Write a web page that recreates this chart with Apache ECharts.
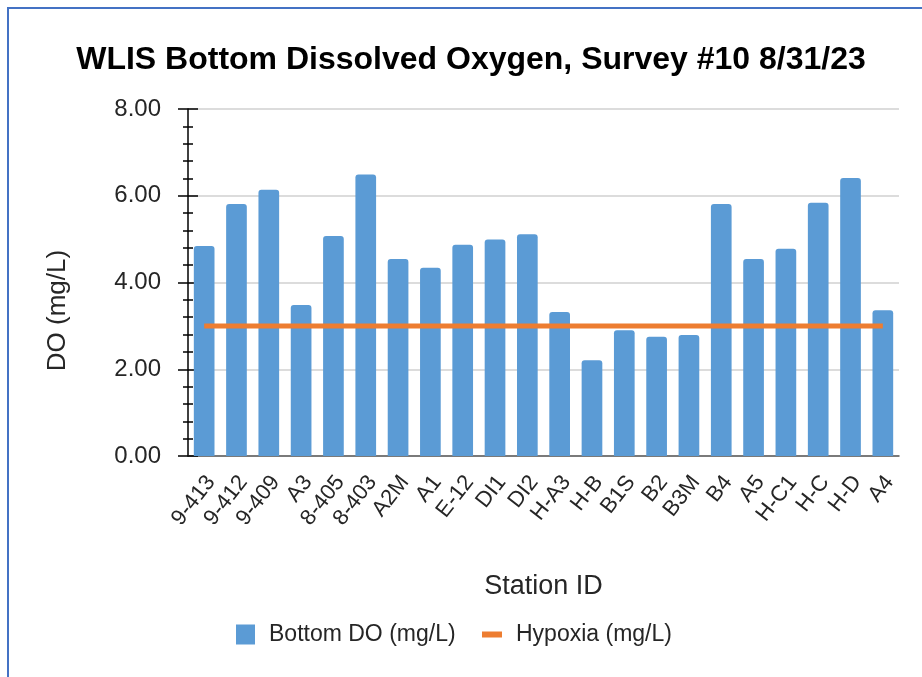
<!DOCTYPE html>
<html>
<head>
<meta charset="utf-8">
<title>WLIS Bottom Dissolved Oxygen</title>
<script src="https://cdn.jsdelivr.net/npm/echarts@6.0.0/dist/echarts.min.js"></script>
<style>
    html, body {
        margin: 0;
        padding: 0;
        background: #fff;
        overflow: hidden;
        width: 922px;
        height: 677px;
    }
    .do-chart {
        position: absolute;
        left: 0;
        top: 0;
        width: 942px;
        height: 677px;
    }
    /* 外框，只露出左边和上边 */
    .chart-frame {
        position: absolute;
        left: 7px;
        top: 7px;
        width: 1000px;
        height: 1000px;
        border-left: 2px solid #4472c4;
        border-top: 2px solid #4472c4;
        pointer-events: none;
    }
</style>
</head>
<body>
<div class="do-chart" id="doChart"></div>
<div class="chart-frame"></div>
<script>
// 站点
var stations = ['9-413', '9-412', '9-409', 'A3', '8-405', '8-403', 'A2M', 'A1', 'E-12', 'DI1', 'DI2',
    'H-A3', 'H-B', 'B1S', 'B2', 'B3M', 'B4', 'A5', 'H-C1', 'H-C', 'H-D', 'A4'];
// 底层溶解氧 mg/L
var bottomDO = [4.84, 5.81, 6.14, 3.48, 5.07, 6.49, 4.54, 4.34, 4.87, 4.99, 5.11,
    3.32, 2.21, 2.90, 2.75, 2.79, 5.81, 4.54, 4.78, 5.84, 6.41, 3.36];
// 缺氧阈值 mg/L
var hypoxia = [3.0, 3.0, 3.0, 3.0, 3.0, 3.0, 3.0, 3.0, 3.0, 3.0, 3.0,
    3.0, 3.0, 3.0, 3.0, 3.0, 3.0, 3.0, 3.0, 3.0, 3.0, 3.0];
// y轴刻度
var yTicks = [0, 2, 4, 6, 8];

(function (win) {
    var font = '"Liberation Sans", Arial, sans-serif';
    var doChart = echarts.init(document.getElementById('doChart'));

    var yMin = yTicks[0],
        yMax = yTicks[yTicks.length - 1],
        yStep = yTicks[1] - yTicks[0];

    function initChart() {
        doChart.setOption({
            animation: false,
            textStyle: {
                fontFamily: font
            },
            title: {
                text: 'WLIS Bottom Dissolved Oxygen, Survey #10 8/31/23',
                left: 'center',
                top: 44,
                padding: 0,
                textStyle: {
                    fontFamily: font,
                    fontSize: 32,
                    fontWeight: 'bold',
                    color: '#000'
                }
            },
            legend: [{
                data: ['Bottom DO (mg/L)'],
                left: 236,
                top: 623,
                padding: 0,
                icon: 'rect',
                itemWidth: 19,
                itemHeight: 20,
                textStyle: {
                    fontFamily: font,
                    fontSize: 23,
                    color: '#262626',
                    padding: [0, 0, 0, 9]
                }
            }, {
                data: ['Hypoxia (mg/L)'],
                left: 482,
                top: 623,
                padding: 0,
                icon: 'rect',
                itemWidth: 20,
                itemHeight: 6,
                textStyle: {
                    fontFamily: font,
                    fontSize: 23,
                    color: '#262626',
                    padding: [0, 0, 0, 9]
                }
            }],
            grid: {
                left: 188,
                right: 43,
                top: 109,
                bottom: 221,
                containLabel: false
            },
            xAxis: [{
                type: 'category',
                data: stations,
                name: 'Station ID',
                nameLocation: 'middle',
                nameGap: 117,
                nameTextStyle: {
                    fontFamily: font,
                    fontSize: 27,
                    color: '#262626'
                },
                axisLine: {
                    show: true,
                    lineStyle: {
                        color: '#595959',
                        width: 1.5
                    }
                },
                axisTick: {
                    show: false
                },
                axisLabel: {
                    interval: 0,
                    rotate: 52,
                    margin: 31,
                    fontFamily: font,
                    fontSize: 22,
                    color: '#262626',
                    padding: [0, -11, 0, 0]
                }
            }],
            yAxis: [{
                type: 'value',
                min: yMin,
                max: yMax,
                interval: yStep,
                name: 'DO (mg/L)',
                nameLocation: 'middle',
                nameGap: 117,
                nameTextStyle: {
                    fontFamily: font,
                    fontSize: 26,
                    color: '#262626',
                    padding: [0, 56, 0, 0]
                },
                axisLine: {
                    show: true,
                    lineStyle: {
                        color: '#000',
                        width: 1.5
                    }
                },
                axisTick: {
                    show: true,
                    length: 10,
                    lineStyle: {
                        color: '#000',
                        width: 1.5
                    }
                },
                minorTick: {
                    show: true,
                    splitNumber: 5,
                    length: 5,
                    lineStyle: {
                        color: '#000',
                        width: 1.5
                    }
                },
                axisLabel: {
                    margin: 27,
                    fontFamily: font,
                    fontSize: 24,
                    color: '#262626',
                    formatter: function (v) {
                        return v.toFixed(2);
                    }
                },
                splitLine: {
                    show: true,
                    lineStyle: {
                        color: '#d0d0d0',
                        width: 1.5
                    }
                }
            }, {
                // 叠一根轴，让刻度线穿过轴线
                type: 'value',
                position: 'left',
                offset: 0,
                min: yMin,
                max: yMax,
                interval: yStep,
                axisLine: {
                    show: false
                },
                axisTick: {
                    show: true,
                    inside: true,
                    length: 10,
                    lineStyle: {
                        color: '#000',
                        width: 1.5
                    }
                },
                minorTick: {
                    show: true,
                    splitNumber: 5,
                    length: 5,
                    lineStyle: {
                        color: '#000',
                        width: 1.5
                    }
                },
                axisLabel: {
                    show: false
                },
                splitLine: {
                    show: false
                }
            }],
            series: [{
                name: 'Bottom DO (mg/L)',
                type: 'bar',
                barWidth: '64%',
                itemStyle: {
                    color: '#5b9bd5',
                    borderRadius: [3, 3, 0, 0]
                },
                data: bottomDO
            }, {
                name: 'Hypoxia (mg/L)',
                type: 'line',
                symbol: 'none',
                z: 5,
                itemStyle: {
                    color: '#ed7d31'
                },
                lineStyle: {
                    color: '#ed7d31',
                    width: 5
                },
                data: hypoxia
            }]
        });
    }

    initChart();
})(this);
</script>
</body>
</html>
